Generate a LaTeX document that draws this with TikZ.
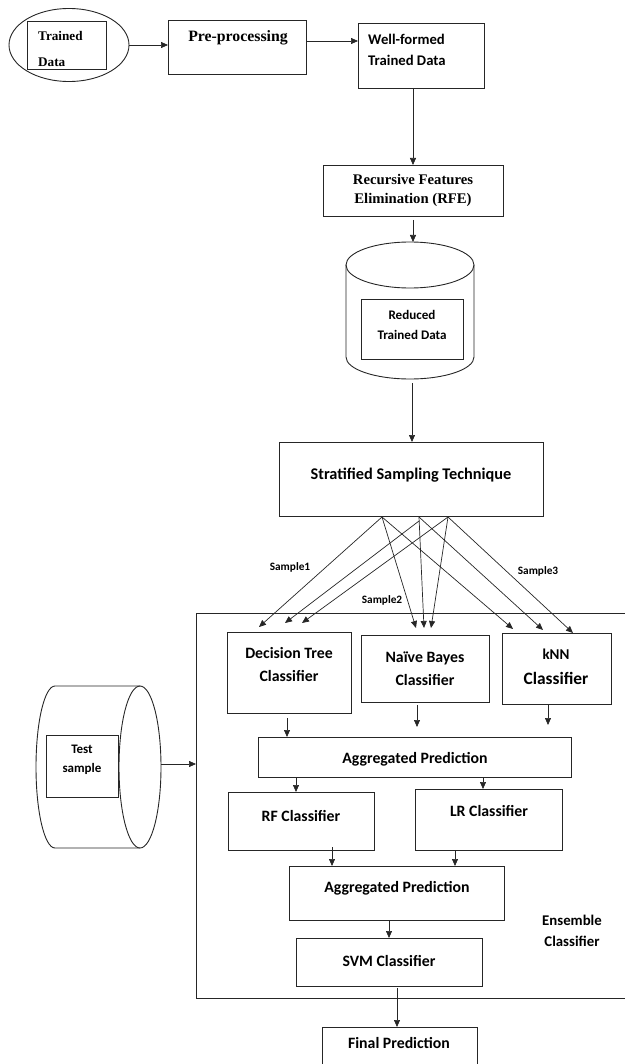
\documentclass[tikz,border=0pt]{standalone}
\usepackage{fontspec}
\setmainfont{Carlito}
\newfontfamily\tnr{Liberation Serif}
\usetikzlibrary{arrows.meta,shapes.geometric}
\begin{document}
\begin{tikzpicture}[x=1pt,y=-1pt,
  box/.style={draw=black!85, line width=0.9pt, inner sep=0pt, outer sep=0pt, anchor=north west},
  arr/.style={draw=black!85, line width=0.7pt, -{Triangle[length=7pt,width=6pt]}},
  shp/.style={draw=black!85, line width=0.9pt},
  sf/.style={font=\bfseries\fontsize{15.8}{23}\selectfont, align=center, inner sep=0pt},
  lab/.style={font=\bfseries\fontsize{11.3}{12}\selectfont, inner sep=0pt}]
\useasboundingbox (0,0) rectangle (624,1064);

% --- top row
\node[shp, ellipse, minimum width=120pt, minimum height=73pt, inner sep=0pt] (td) at (69,45) {};
\node[box, minimum width=79pt, minimum height=48pt] (tdin) at (27,21) {};
\node[anchor=west, align=left, inner sep=0pt, font=\tnr\bfseries\fontsize{13.2}{26}\selectfont] (tdtxt) at (38,49) {Trained\\Data};

\node[box, minimum width=138pt, minimum height=54pt] (pre) at (168,20) {};
\node[inner sep=0pt, font=\tnr\bfseries\fontsize{15.8}{20}\selectfont] (pretxt) at (238,38) {Pre-processing};

\node[box, minimum width=126pt, minimum height=65pt] (wf) at (358,23) {};
\node[anchor=west, align=left, inner sep=0pt, font=\bfseries\fontsize{14.7}{21}\selectfont] (wftxt) at (368,49.5) {Well-formed\\Trained Data};

\draw[arr] (td.east) -- (td.east -| pre.west);
\draw[arr] ([yshift=6pt]pre.east) -- ([yshift=6pt]pre.east -| wf.west);

% --- RFE
\node[box, minimum width=180pt, minimum height=51pt] (rfe) at (323,165) {};
\node[align=center, inner sep=0pt, font=\tnr\bfseries\fontsize{14.7}{19}\selectfont] (rfetxt) at (413,190) {Recursive Features\\Elimination (RFE)};
\draw[arr] (rfe.north |- wf.south) -- (rfe.north);

% --- reduced trained data cylinder
\draw[shp] (410,265) ellipse [x radius=64, y radius=23];
\draw[shp] (346,265) -- (346,357) arc[start angle=180, end angle=0, x radius=64, y radius=22] -- (474,265);
\coordinate (cyltop) at (413,242);
\coordinate (cylbot) at (412,383);
\node[box, minimum width=102pt, minimum height=60pt] (redin) at (361,299) {};
\node[align=center, inner sep=0pt, font=\bfseries\fontsize{13.1}{20}\selectfont] (redtxt) at (412,325) {Reduced\\Trained Data};
\draw[arr] ([yshift=-4pt]rfe.south) -- (cyltop);

% --- stratified
\node[box, minimum width=264pt, minimum height=74pt] (strat) at (279,442) {};
\node[inner sep=0pt, font=\bfseries\fontsize{16.3}{18}\selectfont] (strattxt) at (411,475) {Stratified Sampling Technique};
\draw[arr] (cylbot) -- (cylbot |- strat.north);

% --- ensemble frame
\draw[shp] (625,613) -- (196,613) -- (196,998) -- (625,998);
\node[align=center, inner sep=0pt, font=\bfseries\fontsize{14.8}{21}\selectfont] (enstxt) at (572,931) {Ensemble\\Classifier};

% --- base classifiers
\node[box, minimum width=124pt, minimum height=81pt] (dt) at (227,632) {};
\node[sf] (dttxt) at (289,665) {Decision Tree\\Classifier};
\node[box, minimum width=128pt, minimum height=67pt] (nb) at (361,635) {};
\node[sf] (nbtxt) at (425,669) {Naïve Bayes\\Classifier};
\node[box, minimum width=109pt, minimum height=71pt] (knn) at (502,633) {};
\node[inner sep=0pt, font=\bfseries\fontsize{15}{15}\selectfont] (knntxt1) at (556,654) {kNN};
\node[inner sep=0pt, font=\bfseries\fontsize{17.4}{18}\selectfont] (knntxt2) at (556,678) {Classifier};

% --- sample arrows
\coordinate (s1) at (382,517);
\coordinate (s2) at (419,517);
\coordinate (s3) at (448,517);
\coordinate (dt1) at (259,627);
\coordinate (dt2) at (285,623);
\coordinate (dt3) at (302,623);
\coordinate (nb1) at (416,628);
\coordinate (nb2) at (424,628);
\coordinate (nb3) at (431,628);
\coordinate (kn1) at (513,629);
\coordinate (kn2) at (543,630);
\coordinate (kn3) at (573,633);
\draw[arr] (s1) -- (dt1);
\draw[arr] (s1) -- (nb1);
\draw[arr] (s1) -- (kn1);
\draw[arr] ([yshift=-4pt]s2) -- (dt2);
\draw[arr] (s2) -- (nb2);
\draw[arr] (s2) -- (kn2);
\draw[arr] (s3) -- (dt3);
\draw[arr] (s3) -- (nb3);
\draw[arr] (s3) -- (kn3);
\node[lab] (l1) at (290,567) {Sample1};
\node[lab] (l2) at (382,600) {Sample2};
\node[lab] (l3) at (538,571) {Sample3};

% --- aggregated 1
\node[box, minimum width=313pt, minimum height=40pt] (agg1) at (258,737) {};
\node[sf] (agg1txt) at (415,759) {Aggregated Prediction};
\coordinate (dtA) at (287,718);
\coordinate (nbA) at (417,705);
\coordinate (nbB) at (417,727);
\coordinate (knA) at (548,705);
\coordinate (knB) at (548,725);
\draw[arr] (dtA) -- (dtA |- agg1.north);
\draw[arr] (nbA) -- (nbB);
\draw[arr] (knA) -- (knB);

% --- RF / LR
\node[box, minimum width=146pt, minimum height=58pt] (rf) at (228,792) {};
\node[sf] (rftxt) at (301,816) {RF Classifier};
\node[box, minimum width=147pt, minimum height=61pt] (lr) at (415,789) {};
\node[sf] (lrtxt) at (489,811) {LR Classifier};
\coordinate (a1r) at (296,777);
\coordinate (a1l) at (483,777);
\draw[arr] (a1r) -- (a1r |- rf.north);
\draw[arr] (a1l) -- (a1l |- lr.north);

% --- aggregated 2
\node[box, minimum width=215pt, minimum height=54pt] (agg2) at (289,866) {};
\node[sf] (agg2txt) at (397,888) {Aggregated Prediction};
\coordinate (rfA) at (332,847);
\coordinate (lrA) at (455,850);
\draw[arr] (rfA) -- (rfA |- agg2.north);
\draw[arr] (lrA) -- (lrA |- agg2.north);

% --- SVM
\node[box, minimum width=186pt, minimum height=48pt] (svm) at (296,938) {};
\node[sf] (svmtxt) at (389,961) {SVM Classifier};
\coordinate (a2A) at (389,920);
\draw[arr] (a2A) -- (a2A |- svm.north);

% --- final
\node[box, minimum width=155pt, minimum height=37pt] (final) at (322,1027) {};
\node[sf] (finaltxt) at (399,1043) {Final Prediction};
\coordinate (svA) at (397,988);
\draw[arr] (svA) -- (svA |- final.north);

% --- test sample cylinder
\draw[shp] (140,686) -- (55,686) arc[start angle=270, end angle=90, x radius=19, y radius=81] -- (140,848);
\draw[shp] (140,767) ellipse [x radius=21, y radius=81];
\node[box, minimum width=72pt, minimum height=62pt] (testin) at (46,735) {};
\node[align=center, inner sep=0pt, font=\bfseries\fontsize{13}{19}\selectfont] (testtxt) at (82,760) {Test\\sample};
\coordinate (tsR) at (161,764);
\coordinate (ensL) at (196,764);
\draw[arr] (tsR) -- (ensL);
\end{tikzpicture}
\end{document}
